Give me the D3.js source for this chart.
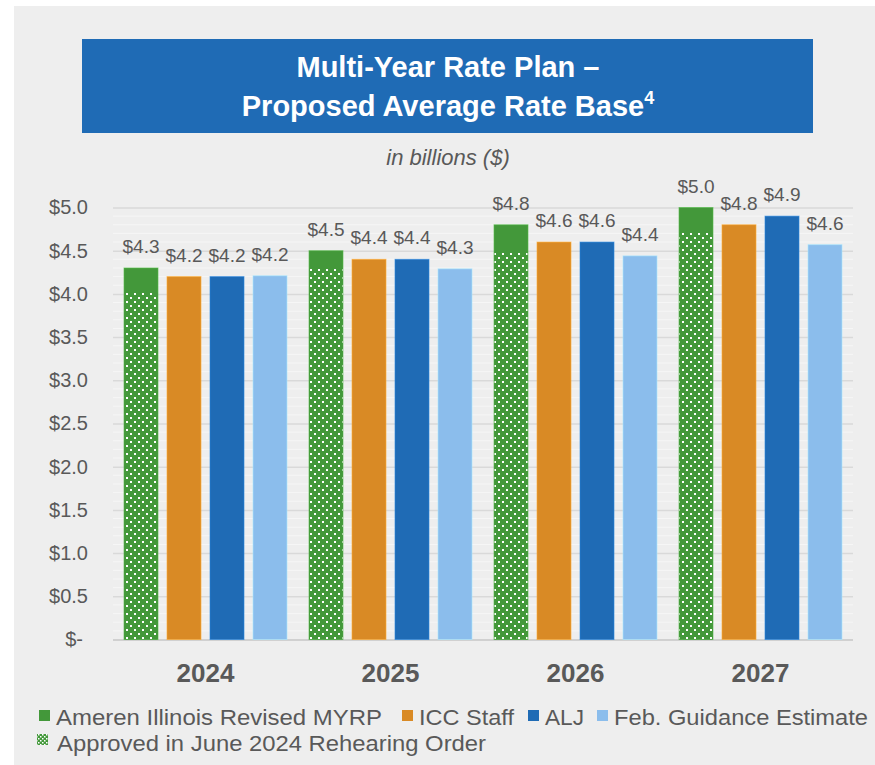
<!DOCTYPE html>
<html>
<head>
<meta charset="utf-8">
<script src="https://cdn.jsdelivr.net/npm/d3@7"></script>
<style>
  html, body { margin: 0; padding: 0; background: #ffffff; }
  svg { display: block; }
  text { font-family: "Liberation Sans", Arial, Helvetica, sans-serif; }
</style>
</head>
<body>
<div id="chart"></div>
<script>
// ---- data ----
const years = ["2024", "2025", "2026", "2027"];
const seriesNames = ["Ameren Illinois Revised MYRP", "ICC Staff", "ALJ", "Feb. Guidance Estimate"];
const revisedMYRP = [4.3, 4.5, 4.8, 5.0];
const approvedRehearing = [4.02, 4.30, 4.49, 4.71];
const iccStaff = [4.2, 4.4, 4.6, 4.8];
const alj = [4.2, 4.4, 4.6, 4.9];
const febGuidance = [4.21, 4.29, 4.44, 4.57];
const yTicks = [0, 0.5, 1.0, 1.5, 2.0, 2.5, 3.0, 3.5, 4.0, 4.5, 5.0];
const approvedLabel = "Approved in June 2024 Rehearing Order";
const titleLine1 = "Multi-Year Rate Plan –";
const titleLine2 = "Proposed Average Rate Base";
const titleSup = "4";
const subtitle = "in billions ($)";

const colors = ["#43983a", "#d98a25", "#1f6bb5", "#8bbdec"];
const textColor = "#595959";
const seriesValues = [revisedMYRP, iccStaff, alj, febGuidance];

const W = 875, H = 765;
const svg = d3.select("#chart").append("svg").attr("width", W).attr("height", H);

// pattern
const defs = svg.append("defs");
const pat = defs.append("pattern").attr("id", "dots").attr("patternUnits", "userSpaceOnUse")
  .attr("width", 8).attr("height", 8);
pat.append("rect").attr("width", 8).attr("height", 8).attr("fill", colors[0]);
pat.append("rect").attr("x", 2).attr("y", 1).attr("width", 2).attr("height", 2).attr("fill", "#ffffff");
pat.append("rect").attr("x", 6).attr("y", 5).attr("width", 2).attr("height", 2).attr("fill", "#ffffff");
const pat2 = defs.append("pattern").attr("id", "dotsSmall").attr("patternUnits", "userSpaceOnUse")
  .attr("width", 4).attr("height", 4);
pat2.append("rect").attr("width", 4).attr("height", 4).attr("fill", colors[0]);
pat2.append("rect").attr("x", 0).attr("y", 0).attr("width", 1.5).attr("height", 1.5).attr("fill", "#ffffff");
pat2.append("rect").attr("x", 2).attr("y", 2).attr("width", 1.5).attr("height", 1.5).attr("fill", "#ffffff");

// panel background
svg.append("rect").attr("x", 14).attr("y", 6).attr("width", W - 14).attr("height", H - 6).attr("fill", "#eeeeee");

// title box
svg.append("rect").attr("x", 82).attr("y", 39).attr("width", 731).attr("height", 94).attr("fill", "#1f6bb5");
const tcx = 448;
svg.append("text").attr("x", tcx).attr("y", 77).attr("text-anchor", "middle")
  .attr("font-size", 29).attr("font-weight", "bold").attr("fill", "#ffffff").text(titleLine1);
const t2 = svg.append("text").attr("x", tcx).attr("y", 116).attr("text-anchor", "middle")
  .attr("font-size", 29).attr("font-weight", "bold").attr("fill", "#ffffff");
t2.append("tspan").text(titleLine2);
t2.append("tspan").attr("font-size", 18).attr("dy", -12).text(titleSup);

svg.append("text").attr("x", tcx).attr("y", 165).attr("text-anchor", "middle")
  .attr("font-size", 22).attr("font-style", "italic").attr("fill", textColor).text(subtitle);

// scales
const y = d3.scaleLinear().domain([0, 5]).range([639.5, 207.5]);
const x0 = d3.scaleBand().domain(years).range([113, 853]).paddingInner(0).paddingOuter(0);
const groupW = 163;
const x1 = d3.scaleBand().domain(d3.range(4)).range([0, groupW]).paddingInner(9 / 43).paddingOuter(0);
const gx = yr => x0(yr) + (x0.bandwidth() - groupW) / 2;

// minor gridlines
const minor = d3.range(1, 50).map(i => i / 10).filter(v => Math.abs(v * 2 - Math.round(v * 2)) > 1e-6);
svg.append("g").selectAll("line").data(minor).join("line")
  .attr("x1", 113).attr("x2", 853).attr("y1", d => y(d)).attr("y2", d => y(d))
  .attr("stroke", "#f6f6f6").attr("stroke-width", 1);

// y axis (major grid)
const yAxis = d3.axisLeft(y).tickValues(yTicks).tickSize(-(853 - 113)).tickPadding(25)
  .tickFormat(d => d === 0 ? "$-  " : "$" + d3.format(".1f")(d));
const gy = svg.append("g").attr("transform", "translate(113,0)").call(yAxis);
gy.select(".domain").remove();
gy.selectAll(".tick line").attr("stroke", "#d9d9d9").attr("stroke-width", 1.5);
gy.selectAll(".tick text").attr("font-size", 20).attr("fill", textColor)
  .attr("font-family", "'Liberation Sans', Arial, sans-serif");
gy.selectAll(".tick").filter(d => d === 0).select("line").attr("stroke", "#d0d0d0").attr("stroke-width", 2);
gy.selectAll(".tick").filter(d => d === 0).select("text").attr("dx", -5);

// bars
const bars = svg.append("g");
seriesValues.forEach((vals, si) => {
  bars.selectAll(null).data(years).join("rect")
    .attr("x", d => gx(d) + x1(si))
    .attr("y", (d, i) => y(vals[i]))
    .attr("width", x1.bandwidth())
    .attr("height", (d, i) => y(0) - y(vals[i]))
    .attr("fill", colors[si])
    .attr("stroke", d3.color(colors[si]).brighter(0.6))
    .attr("stroke-opacity", 0.6)
    .attr("stroke-width", 1);
  if (si === 0) {
    bars.selectAll(null).data(years).join("rect")
      .attr("x", d => gx(d) + x1(0) + 0.5)
      .attr("y", (d, i) => y(approvedRehearing[i]))
      .attr("width", x1.bandwidth() - 1)
      .attr("height", (d, i) => y(0) - y(approvedRehearing[i]))
      .attr("fill", "url(#dots)");
  }
  bars.selectAll(null).data(years).join("text")
    .attr("x", d => gx(d) + x1(si) + x1.bandwidth() / 2)
    .attr("y", (d, i) => y(vals[i]) - 15)
    .attr("text-anchor", "middle").attr("font-size", 19).attr("fill", textColor)
    .text((d, i) => "$" + d3.format(".1f")(vals[i]));
});

// x axis labels
svg.append("g").selectAll("text").data(years).join("text")
  .attr("x", d => x0(d) + x0.bandwidth() / 2).attr("y", 682)
  .attr("text-anchor", "middle").attr("font-size", 26).attr("font-weight", "bold")
  .attr("fill", textColor).text(d => d);

// legend
const leg = svg.append("g");
const legX = [39, 402, 528, 597];
const legW = [326, 95, 39, 254];
seriesNames.forEach((name, i) => {
  leg.append("rect").attr("x", legX[i]).attr("y", 710).attr("width", 11).attr("height", 11).attr("fill", colors[i]);
  leg.append("text").attr("x", legX[i] + 17).attr("y", 725).attr("font-size", 22.5)
    .attr("textLength", legW[i]).attr("lengthAdjust", "spacingAndGlyphs")
    .attr("fill", textColor).text(name);
});
leg.append("rect").attr("x", 37).attr("y", 734).attr("width", 11).attr("height", 11).attr("fill", "url(#dotsSmall)");
leg.append("text").attr("x", 57).attr("y", 751).attr("font-size", 22.5)
  .attr("textLength", 429).attr("lengthAdjust", "spacingAndGlyphs")
  .attr("fill", textColor).text(approvedLabel);
</script>
</body>
</html>
